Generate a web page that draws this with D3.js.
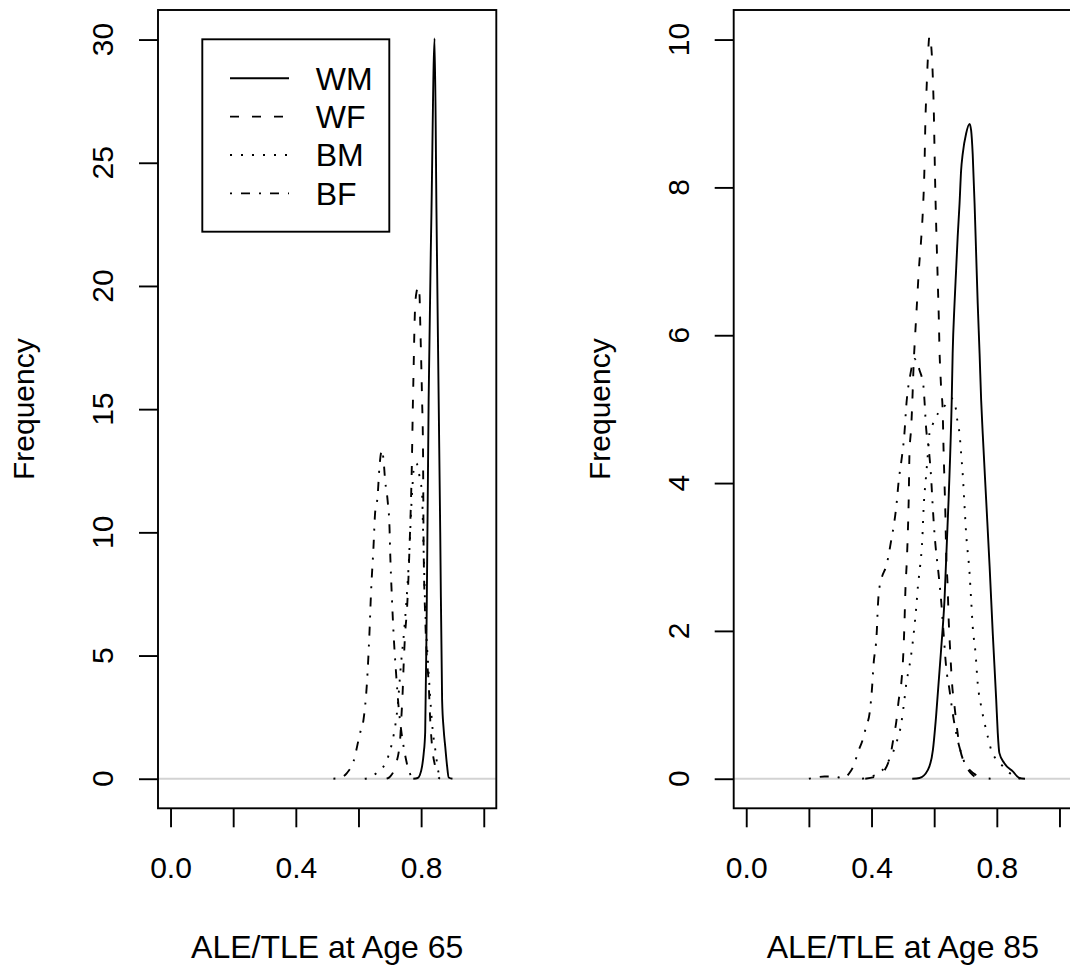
<!DOCTYPE html>
<html><head><meta charset="utf-8">
<script src="https://cdn.jsdelivr.net/npm/d3@7"></script>
<style>body{margin:0;background:#fff}svg{display:block;font-family:"Liberation Sans",Arial,Helvetica,sans-serif}</style>
</head><body><svg id="c" width="1070" height="967"></svg>
<script>
// ---------- data ----------
const seriesNames = ["WM", "WF", "BM", "BF"];
const xTicks = [0, 0.2, 0.4, 0.6, 0.8, 1.0];
const xTickLabels = ["0.0", "", "0.4", "", "0.8", ""];
const yTicks65 = [0, 5, 10, 15, 20, 25, 30];
const yTicks85 = [0, 2, 4, 6, 8, 10];
const xTitles = ["ALE/TLE at Age 65", "ALE/TLE at Age 85"];
const yTitle = "Frequency";

// Age 65 densities
const wm65x = [0.775, 0.789, 0.796, 0.803, 0.808, 0.813, 0.818, 0.824, 0.833, 0.843, 0.849, 0.856, 0.861, 0.867, 0.872, 0.877, 0.883, 0.888, 0.90];
const wm65y = [0, 0.03, 0.15, 0.5, 1.0, 1.9, 7.0, 15.4, 23.0, 30.05, 23.0, 15.4, 10.0, 3.2, 2.0, 1.3, 0.5, 0.05, 0];
const wf65x = [0.69, 0.701, 0.72, 0.733, 0.737, 0.741, 0.744, 0.749, 0.755, 0.760, 0.763, 0.767, 0.770, 0.774, 0.776, 0.778, 0.781, 0.786, 0.792, 0.795, 0.797, 0.803, 0.806, 0.808, 0.813, 0.818, 0.824, 0.829, 0.835, 0.845, 0.851, 0.86];
const wf65y = [0, 0.09, 0.6, 1.6, 2.5, 3.5, 4.55, 5.9, 6.9, 8.3, 9.4, 11.0, 12.5, 15.4, 16.6, 17.9, 19.2, 19.8, 20.0, 19.6, 18.6, 15.4, 13.4, 9.4, 6.6, 5.0, 3.9, 2.4, 1.3, 0.5, 0.16, 0];
const bm65x = [0.62, 0.632, 0.655, 0.680, 0.695, 0.707, 0.718, 0.725, 0.735, 0.746, 0.760, 0.771, 0.778, 0.785, 0.797, 0.803, 0.806, 0.813, 0.824, 0.838, 0.845, 0.856, 0.865];
const bm65y = [0, 0.03, 0.2, 0.5, 0.9, 1.45, 2.2, 2.93, 4.55, 6.04, 8.61, 11.59, 12.7, 12.8, 12.1, 11.6, 10.2, 7.0, 4.3, 1.85, 1.2, 0.23, 0];
const bf65x = [0.52, 0.545, 0.563, 0.584, 0.605, 0.616, 0.627, 0.635, 0.640, 0.648, 0.653, 0.661, 0.667, 0.675, 0.680, 0.685, 0.693, 0.699, 0.701, 0.707, 0.712, 0.720, 0.728, 0.736, 0.744, 0.760, 0.775];
const bf65y = [0, 0.05, 0.23, 0.70, 1.85, 2.39, 3.88, 5.9, 7.53, 9.42, 10.77, 11.45, 12.66, 13.34, 12.94, 12.12, 11.3, 10.23, 9.29, 7.26, 5.9, 4.29, 2.93, 2.0, 1.31, 0.36, 0];

// Age 85 densities
const wm85x = [0.53, 0.553, 0.580, 0.596, 0.606, 0.622, 0.633, 0.646, 0.656, 0.659, 0.665, 0.670, 0.675, 0.681, 0.686, 0.691, 0.702, 0.713, 0.718, 0.723, 0.729, 0.734, 0.739, 0.745, 0.750, 0.755, 0.766, 0.777, 0.787, 0.798, 0.803, 0.808, 0.824, 0.851, 0.872, 0.89];
const wm85y = [0, 0.01, 0.12, 0.39, 0.84, 1.74, 2.42, 3.77, 5.12, 5.75, 6.43, 6.88, 7.33, 7.78, 8.23, 8.45, 8.73, 8.86, 8.77, 8.45, 7.78, 7.1, 6.43, 5.75, 5.12, 4.67, 3.77, 2.87, 1.97, 1.07, 0.62, 0.35, 0.21, 0.1, 0.01, 0];
const wf85x = [0.38, 0.425, 0.457, 0.471, 0.479, 0.487, 0.495, 0.502, 0.505, 0.508, 0.513, 0.516, 0.519, 0.521, 0.527, 0.530, 0.535, 0.539, 0.545, 0.551, 0.559, 0.564, 0.569, 0.572, 0.576, 0.580, 0.585, 0.590, 0.596, 0.599, 0.601, 0.603, 0.606, 0.609, 0.612, 0.615, 0.617, 0.620, 0.622, 0.627, 0.630, 0.633, 0.636, 0.638, 0.643, 0.646, 0.651, 0.657, 0.665, 0.672, 0.681, 0.697, 0.713, 0.745, 0.78];
const wf85y = [0, 0.05, 0.26, 0.57, 0.77, 1.07, 1.29, 1.74, 2.08, 2.53, 2.98, 3.34, 3.84, 4.38, 4.78, 5.08, 5.66, 5.98, 6.43, 6.88, 7.33, 7.69, 8.27, 8.9, 9.36, 9.76, 10.05, 9.94, 9.45, 9.0, 8.54, 8.09, 7.55, 7.1, 6.65, 6.2, 5.8, 5.48, 5.3, 5.0, 4.45, 4.0, 3.54, 3.1, 2.6, 2.19, 1.74, 1.29, 0.98, 0.71, 0.44, 0.21, 0.12, 0.03, 0];
const bm85x = [0.37, 0.399, 0.431, 0.457, 0.479, 0.495, 0.505, 0.511, 0.521, 0.530, 0.537, 0.543, 0.548, 0.555, 0.562, 0.566, 0.574, 0.580, 0.585, 0.596, 0.612, 0.635, 0.654, 0.670, 0.675, 0.681, 0.686, 0.691, 0.697, 0.702, 0.713, 0.718, 0.723, 0.732, 0.739, 0.750, 0.761, 0.771, 0.782, 0.798, 0.819, 0.840, 0.86, 0.88];
const bm85y = [0, 0.03, 0.1, 0.26, 0.48, 0.75, 1.07, 1.29, 1.52, 1.79, 2.06, 2.33, 2.6, 2.87, 3.23, 3.64, 4.09, 4.4, 4.67, 4.8, 4.94, 5.05, 5.15, 4.99, 4.8, 4.67, 4.4, 4.13, 3.68, 3.32, 2.78, 2.42, 2.06, 1.7, 1.29, 0.98, 0.75, 0.57, 0.39, 0.26, 0.17, 0.08, 0.02, 0];
const bf85x = [0.20, 0.213, 0.25, 0.277, 0.309, 0.330, 0.346, 0.356, 0.372, 0.383, 0.394, 0.402, 0.406, 0.417, 0.420, 0.423, 0.431, 0.449, 0.463, 0.473, 0.479, 0.487, 0.495, 0.505, 0.511, 0.524, 0.537, 0.553, 0.566, 0.569, 0.574, 0.583, 0.590, 0.596, 0.601, 0.615, 0.622, 0.630, 0.638, 0.649, 0.659, 0.670, 0.686, 0.702, 0.723, 0.75];
const bf85y = [0, 0.01, 0.03, 0.03, 0.01, 0.08, 0.21, 0.35, 0.53, 0.71, 0.89, 1.25, 1.52, 2.01, 2.31, 2.51, 2.69, 2.91, 3.23, 3.48, 3.68, 4.04, 4.29, 4.67, 5.05, 5.47, 5.68, 5.53, 5.3, 5.12, 4.76, 4.45, 4.09, 3.64, 3.32, 2.73, 2.42, 1.97, 1.52, 1.2, 0.89, 0.62, 0.35, 0.17, 0.05, 0];

// ---------- layout / style ----------
const dashes = {WM: null, WF: "9,13", BM: "2,9", BF: "2,9,9,9"};
const FONT = 30, TITLE_FONT = 32, LEGEND_FONT = 32;
const boxTop = 10, boxBottom = 808.3, boxWidth = 338.3;

const panels = [
  {left: 158, ymax: 30, yTicks: yTicks65, title: xTitles[0], legend: true,
   series: {WM: [wm65x, wm65y], WF: [wf65x, wf65y], BM: [bm65x, bm65y], BF: [bf65x, bf65y]}},
  {left: 733.7, ymax: 10, yTicks: yTicks85, title: xTitles[1], legend: false,
   series: {WM: [wm85x, wm85y], WF: [wf85x, wf85y], BM: [bm85x, bm85y], BF: [bf85x, bf85y]}}
];

const svg = d3.select("#c");
svg.append("rect").attr("width", 1070).attr("height", 967).attr("fill", "#fff");

panels.forEach((p, i) => {
  const x = d3.scaleLinear().domain([-0.04, 1.04]).range([p.left, p.left + boxWidth]);
  const y = d3.scaleLinear().domain([-0.04 * p.ymax, 1.04 * p.ymax]).range([boxBottom, boxTop]);
  const g = svg.append("g");

  const clipId = "clip" + i;
  svg.append("clipPath").attr("id", clipId).append("rect")
    .attr("x", p.left).attr("y", boxTop).attr("width", boxWidth).attr("height", boxBottom - boxTop);

  g.append("line").attr("x1", x(-0.04)).attr("x2", x(1.04)).attr("y1", y(0)).attr("y2", y(0))
    .attr("stroke", "#d3d3d3").attr("stroke-width", 2).attr("clip-path", `url(#${clipId})`);

  const line = d3.line().x(d => x(d[0])).y(d => y(d[1])).curve(d3.curveMonotoneX);
  seriesNames.forEach(s => {
    const [xs, ys] = p.series[s];
    const pts = xs.map((v, k) => [v, ys[k]]);
    g.append("path").datum(pts).attr("d", line).attr("fill", "none")
      .attr("stroke", "#000").attr("stroke-width", 1.9)
      .attr("stroke-dasharray", dashes[s]).attr("clip-path", `url(#${clipId})`);
  });

  g.append("rect").attr("x", p.left).attr("y", boxTop).attr("width", boxWidth).attr("height", boxBottom - boxTop)
    .attr("fill", "none").attr("stroke", "#000").attr("stroke-width", 1.9);

  const xa = g.append("g").attr("transform", `translate(0,${boxBottom})`)
    .call(d3.axisBottom(x).tickValues(xTicks).tickSize(19).tickSizeOuter(0)
      .tickFormat((d, k) => xTickLabels[k]).tickPadding(29));
  xa.select(".domain").remove();
  xa.selectAll(".tick line").attr("stroke", "#000").attr("stroke-width", 1.9);
  xa.selectAll(".tick text").attr("font-size", FONT).attr("font-family", "Liberation Sans, Arial, sans-serif").attr("fill", "#000");

  const ya = g.append("g").attr("transform", `translate(${p.left},0)`)
    .call(d3.axisLeft(y).tickValues(p.yTicks).tickSize(19).tickSizeOuter(0).tickFormat(""));
  ya.select(".domain").remove();
  ya.selectAll(".tick line").attr("stroke", "#000").attr("stroke-width", 1.9);
  g.selectAll(null).data(p.yTicks).enter().append("text")
    .attr("transform", d => `translate(${p.left - 44.7},${y(d)}) rotate(-90)`)
    .attr("text-anchor", "middle").attr("font-size", FONT).attr("fill", "#000")
    .text(d => d3.format("d")(d));

  g.append("text").attr("x", p.left + boxWidth / 2).attr("y", 958).attr("text-anchor", "middle")
    .attr("font-size", TITLE_FONT).attr("fill", "#000").text(p.title);
  g.append("text").attr("transform", `translate(${p.left - 124},${(boxTop + boxBottom) / 2}) rotate(-90)`)
    .attr("text-anchor", "middle").attr("font-size", FONT).attr("fill", "#000").text(yTitle);

  if (p.legend) {
    const lg = g.append("g");
    lg.append("rect").attr("x", 202.3).attr("y", 39.3).attr("width", 187).attr("height", 192.4)
      .attr("fill", "#fff").attr("stroke", "#000").attr("stroke-width", 1.9);
    seriesNames.forEach((s, k) => {
      const cy = 78.3 + k * 38.35;
      lg.append("line").attr("x1", 230).attr("x2", 289).attr("y1", cy).attr("y2", cy)
        .attr("stroke", "#000").attr("stroke-width", 1.9).attr("stroke-dasharray", dashes[s]);
      lg.append("text").attr("x", 315.7).attr("y", cy + 11.3).attr("font-size", LEGEND_FONT).attr("fill", "#000").text(s);
    });
  }
});
</script></body></html>
